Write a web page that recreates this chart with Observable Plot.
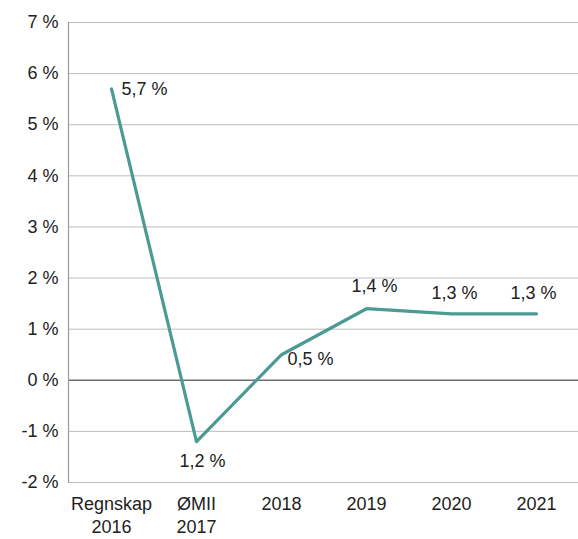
<!DOCTYPE html>
<html>
<head>
<meta charset="utf-8">
<script src="https://cdn.jsdelivr.net/npm/d3@7"></script>
<script src="https://cdn.jsdelivr.net/npm/@observablehq/plot@0.6"></script>
<style>
  html, body { margin: 0; padding: 0; background: #fff; }
  #chart svg { display: block; }
</style>
</head>
<body>
<div id="chart"></div>
<script>
const categories = ["Regnskap\n2016", "ØMII\n2017", "2018", "2019", "2020", "2021"];
const values = [5.7, -1.2, 0.5, 1.4, 1.3, 1.3];
const valueLabels = ["5,7 %", "1,2 %", "0,5 %", "1,4 %", "1,3 %", "1,3 %"];
const yTicks = [-2, -1, 0, 1, 2, 3, 4, 5, 6, 7];

const data = categories.map((c, i) => ({cat: c, v: values[i], label: valueLabels[i]}));

// label placement per point (style only)
const place = [
  {dx: 10, dy: 0, anchor: "start"},
  {dx: 6, dy: 20, anchor: "middle"},
  {dx: 6, dy: 5, anchor: "start"},
  {dx: 8, dy: -22, anchor: "middle"},
  {dx: 3, dy: -21, anchor: "middle"},
  {dx: -3, dy: -21, anchor: "middle"}
];

const font = "'Liberation Sans', Arial, Helvetica, sans-serif";

const chart = Plot.plot({
  width: 578,
  height: 539,
  marginLeft: 68,
  marginRight: 0,
  marginTop: 22,
  marginBottom: 57,
  style: {fontFamily: font, fontSize: "18px", color: "#222", background: "#fff"},
  x: {type: "point", domain: categories, padding: 0.5, label: null},
  y: {domain: [-2, 7], label: null},
  marks: [
    Plot.ruleY(yTicks.filter(d => d !== 0), {stroke: "#bdbdbd", strokeWidth: 1, strokeOpacity: 1}),
    Plot.ruleY([0], {stroke: "#6e6e6e", strokeWidth: 1.5}),
    Plot.frame({anchor: "left", stroke: "#9a9a9a", strokeWidth: 1.2}),
    Plot.axisY(yTicks, {
      tickSize: 0, tickPadding: 10, tickFormat: d => d + " %",
      fontSize: 18, fill: "#222", label: null
    }),
    Plot.axisX(categories, {
      tickSize: 0, tickPadding: 11, fontSize: 18, fill: "#222", label: null, lineHeight: 1.28
    }),
    Plot.line(data, {x: "cat", y: "v", stroke: "#4b9a94", strokeWidth: 3.2}),
    ...data.map((d, i) => Plot.text([d], {
      x: "cat", y: "v", text: "label",
      dx: place[i].dx, dy: place[i].dy, textAnchor: place[i].anchor,
      fontSize: 18, fill: "#222"
    }))
  ]
});

document.getElementById("chart").appendChild(chart);
</script>
</body>
</html>
